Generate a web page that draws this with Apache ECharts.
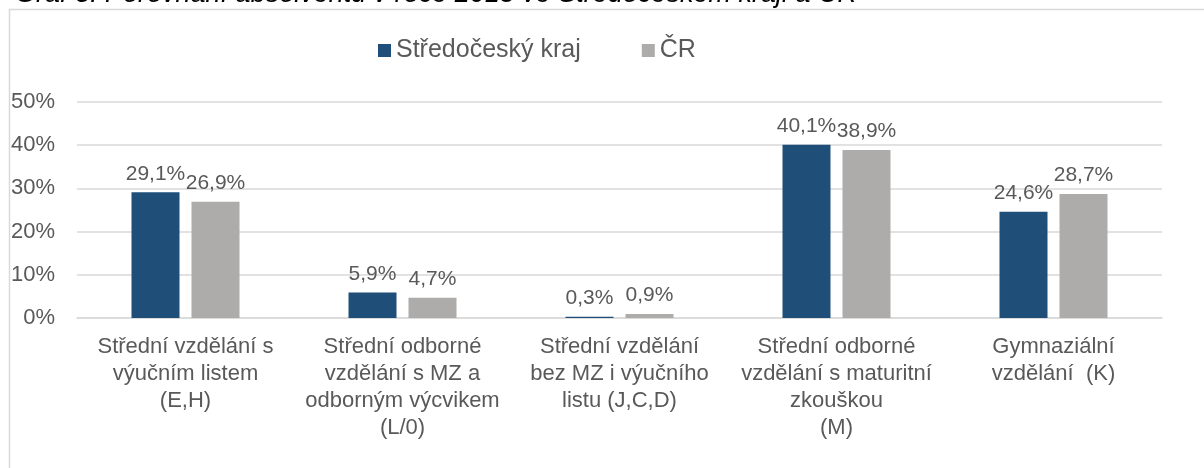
<!DOCTYPE html>
<html><head><meta charset="utf-8">
<script src="https://cdn.jsdelivr.net/npm/echarts@6/dist/echarts.min.js"></script>
<style>html,body{margin:0;padding:0;background:#fff}#c{width:1204px;height:468px}</style>
</head><body><div id="c"></div>
<script>
var categories = [
  "Střední vzdělání s\nvýučním listem\n(E,H)",
  "Střední odborné\nvzdělání s MZ a\nodborným výcvikem\n(L/0)",
  "Střední vzdělání\nbez MZ i výučního\nlistu (J,C,D)",
  "Střední odborné\nvzdělání s maturitní\nzkouškou\n(M)",
  "Gymnaziální\nvzdělání  (K)"
];
var seriesNames = ["Středočeský kraj", "ČR"];
var stredocesky = [29.1, 5.9, 0.3, 40.1, 24.6];
var cr = [26.9, 4.7, 0.9, 38.9, 28.7];
var yTicks = [0, 10, 20, 30, 40, 50];
var titleText = "Graf 3: Porovnání absolventů v roce 2015 ve Středočeském kraji a ČR";

var font = "'Liberation Sans', Arial, sans-serif";
var txt = "#595959";
function lbl(p){ return String(p.value.toFixed(1)).replace('.', ',') + '%'; }

var chart = echarts.init(document.getElementById('c'));
chart.setOption({
  animation: false,
  textStyle: {fontFamily: font},
  graphic: [
    {type: 'rect', shape: {x: 9.5, y: 9.5, width: 1300, height: 600}, style: {fill: 'none', stroke: '#d9d9d9', lineWidth: 1.5}, z: -1},
    {type: 'text', left: 15, top: -19, style: {text: titleText, font: 'italic 27px ' + font, fill: '#000'}}
  ],
  legend: {
    data: seriesNames, left: 373, top: 33, icon: 'rect', itemWidth: 13, itemHeight: 13, itemGap: 61,
    textStyle: {fontSize: 25, color: txt, fontFamily: font}
  },
  grid: {left: 77, right: 42, top: 102, bottom: 150, containLabel: false},
  xAxis: {
    type: 'category', data: categories,
    axisLine: {lineStyle: {color: '#d9d9d9', width: 1.5}}, axisTick: {show: false},
    axisLabel: {fontSize: 22, color: txt, lineHeight: 27, margin: 15, interval: 0, fontFamily: font}
  },
  yAxis: {
    type: 'value', min: 0, max: 50, interval: 10,
    axisLine: {show: false}, axisTick: {show: false},
    splitLine: {lineStyle: {color: '#d9d9d9', width: 1.5}},
    axisLabel: {formatter: function(v){ return yTicks.indexOf(v) >= 0 ? v + '%' : ''; }, fontSize: 22, color: txt, margin: 22, fontFamily: font}
  },
  series: [
    {name: seriesNames[0], type: 'bar', data: stredocesky, barWidth: 48, barGap: '25%',
     itemStyle: {color: '#1f4e79'},
     label: {show: true, position: 'top', formatter: lbl, fontSize: 21, color: txt, distance: 8, fontFamily: font}},
    {name: seriesNames[1], type: 'bar', data: cr, barWidth: 48,
     itemStyle: {color: '#aeabab'},
     label: {show: true, position: 'top', formatter: lbl, fontSize: 21, color: txt, distance: 8, fontFamily: font}}
  ]
});
</script></body></html>
